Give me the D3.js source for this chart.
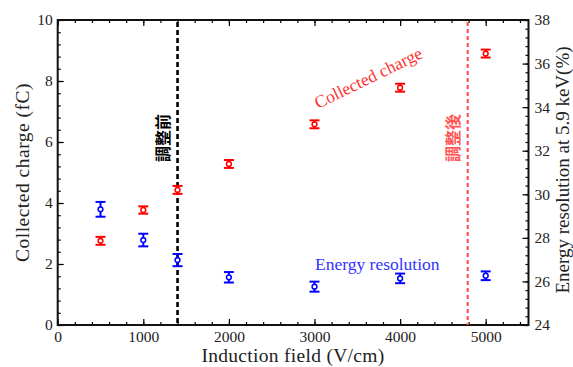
<!DOCTYPE html>
<html>
<head>
<meta charset="utf-8">
<script src="https://cdn.jsdelivr.net/npm/d3@7"></script>
<style>
  body { margin: 0; background: #fff; }
  svg text { font-family: "Liberation Serif", "DejaVu Serif", serif; }
</style>
</head>
<body>
<svg id="chart" width="573" height="367"></svg>
<script>
// induction field (V/cm)
const fields = [500, 1000, 1400, 2000, 3000, 4000, 5000];
// collected charge (fC) and error
const charge = [2.76, 3.77, 4.43, 5.28, 6.58, 7.78, 8.90];
const chargeErr = [0.13, 0.12, 0.13, 0.13, 0.13, 0.13, 0.13];
// energy resolution at 5.9 keV (%) and error
const resolution = [29.31, 27.90, 26.98, 26.19, 25.76, 26.14, 26.26];
const resolutionErr = [0.34, 0.29, 0.28, 0.24, 0.23, 0.22, 0.20];

const xTicks = [0, 1000, 2000, 3000, 4000, 5000];
const xMinor = d3.range(0, 5501, 200);
const yLTicks = [0, 2, 4, 6, 8, 10];
const yLMinor = d3.range(0, 10.01, 0.4);
const yRTicks = [24, 26, 28, 30, 32, 34, 36, 38];
const yRMinor = d3.range(24, 38.01, 0.4);

const beforeField = 1400;
const afterField = 4790;

const svg = d3.select('#chart');
const x = d3.scaleLinear().domain([0, 5500]).range([57.7, 528.5]);
const yL = d3.scaleLinear().domain([0, 10]).range([325, 20]);
const yR = d3.scaleLinear().domain([24, 38]).range([325, 20]);

const fmt = d3.format('d');

function axis(gen, transform, size, values, labels, pad) {
  const g = svg.append('g').attr('transform', transform)
    .call(gen.tickValues(values).tickSize(size).tickPadding(pad || 6)
      .tickFormat(labels ? fmt : ''));
  g.select('.domain').remove();
  g.selectAll('line').attr('stroke', '#000').attr('stroke-width', 1.2);
  g.selectAll('text').attr('font-size', 15.5).attr('fill', '#222')
    .style('font-family', '"Liberation Serif", serif');
  return g;
}

// bottom / top
axis(d3.axisBottom(x), 'translate(0,325)', -3, xMinor, false);
axis(d3.axisBottom(x), 'translate(0,325)', -6, xTicks, true, 6);
axis(d3.axisTop(x), 'translate(0,20)', -3, xMinor, false);
axis(d3.axisTop(x), 'translate(0,20)', -6, xTicks, false);
// left
axis(d3.axisLeft(yL), 'translate(57.7,0)', -3, yLMinor, false);
axis(d3.axisLeft(yL), 'translate(57.7,0)', -6, yLTicks, true, 5);
// right
axis(d3.axisRight(yR), 'translate(528.5,0)', -3, yRMinor, false);
axis(d3.axisRight(yR), 'translate(528.5,0)', -6, yRTicks, true, 6);

// frame
svg.append('rect')
  .attr('x', x(0)).attr('y', yL(10))
  .attr('width', x(5500) - x(0)).attr('height', yL(0) - yL(10))
  .attr('fill', 'none').attr('stroke', '#111').attr('stroke-width', 2);

// vertical markers
svg.append('line')
  .attr('x1', x(beforeField)).attr('x2', x(beforeField))
  .attr('y1', yL(10) + 2).attr('y2', yL(0))
  .attr('stroke', '#000').attr('stroke-width', 2.6).attr('stroke-dasharray', '5,3');
svg.append('line')
  .attr('x1', x(afterField)).attr('x2', x(afterField))
  .attr('y1', yL(10) + 2).attr('y2', yL(0))
  .attr('stroke', '#f55').attr('stroke-width', 2.2).attr('stroke-dasharray', '4,3');

const cjk = '"Noto Sans CJK JP", "Noto Sans CJK SC", sans-serif';
svg.append('text')
  .attr('transform', `translate(${x(beforeField) - 9},138) rotate(-90)`)
  .attr('text-anchor', 'middle')
  .style('font-family', cjk).attr('font-weight', 'bold').attr('font-size', 16)
  .attr('fill', '#000').text('調整前');
svg.append('text')
  .attr('transform', `translate(${x(afterField) - 9},138) rotate(-90)`)
  .attr('text-anchor', 'middle')
  .style('font-family', cjk).attr('font-weight', 'bold').attr('font-size', 16)
  .attr('fill', '#f55').text('調整後');

// error bars + markers
function series(vals, errs, scale, color) {
  const g = svg.append('g');
  fields.forEach((f, i) => {
    const cx = x(f);
    const lo = scale(vals[i] - errs[i]);
    const hi = scale(vals[i] + errs[i]);
    g.append('line').attr('x1', cx).attr('x2', cx).attr('y1', lo).attr('y2', hi)
      .attr('stroke', color).attr('stroke-width', 2);
    [lo, hi].forEach(yy => g.append('line')
      .attr('x1', cx - 5).attr('x2', cx + 5).attr('y1', yy).attr('y2', yy)
      .attr('stroke', color).attr('stroke-width', 2));
    g.append('circle').attr('cx', cx).attr('cy', scale(vals[i])).attr('r', 2.4)
      .attr('fill', '#fff').attr('stroke', color).attr('stroke-width', 1.5);
  });
}
series(charge, chargeErr, yL, '#f00');
series(resolution, resolutionErr, yR, '#00f');

// series labels
svg.append('text')
  .attr('transform', 'translate(318,109) rotate(-26)')
  .attr('font-size', 17.5).attr('fill', '#f33').text('Collected charge');
svg.append('text')
  .attr('x', 315).attr('y', 270)
  .attr('font-size', 17.5).attr('fill', '#33f').text('Energy resolution');

// axis titles
svg.append('text')
  .attr('x', 293).attr('y', 362).attr('text-anchor', 'middle')
  .attr('font-size', 19.5).attr('letter-spacing', 0.3).attr('fill', '#222')
  .text('Induction field (V/cm)');
svg.append('text')
  .attr('transform', 'translate(29,172.5) rotate(-90)').attr('text-anchor', 'middle')
  .attr('font-size', 19.5).attr('letter-spacing', 0.5).attr('fill', '#222')
  .text('Collected charge (fC)');
svg.append('text')
  .attr('transform', 'translate(569,170) rotate(-90)').attr('text-anchor', 'middle')
  .attr('font-size', 19).attr('fill', '#222')
  .text('Energy resolution at 5.9 keV(%)');
</script>
</body>
</html>
